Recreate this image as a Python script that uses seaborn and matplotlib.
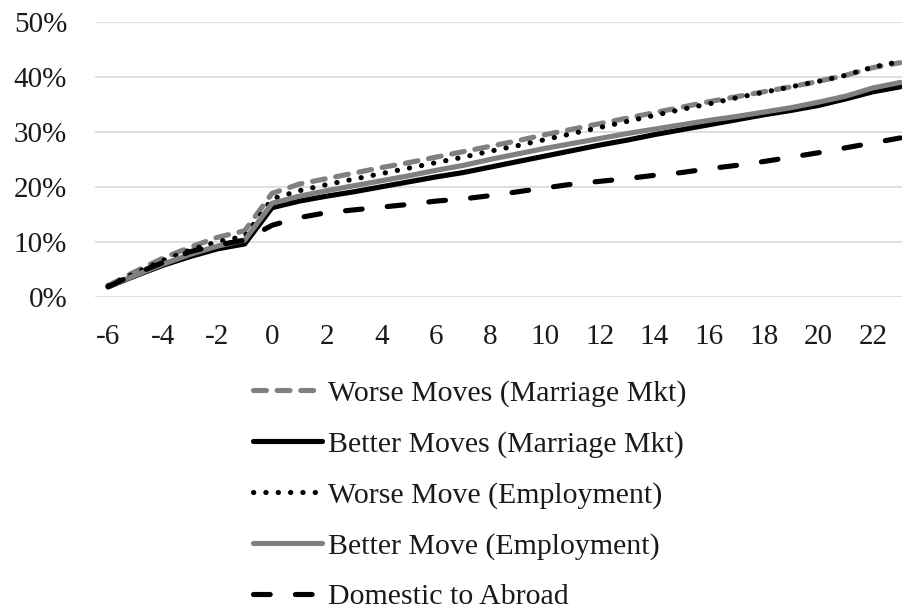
import numpy as np
import pandas as pd
import matplotlib
matplotlib.use("Agg")
import matplotlib.pyplot as plt
import seaborn as sns

# ---- data ----
event_time = list(range(-6, 24))
worse_marriage = [2.0, 4.6, 7.0, 9.0, 10.8, 12.0, 18.8, 20.5, 21.5, 22.5, 23.5, 24.4, 25.4, 26.4, 27.4,
                  28.4, 29.5, 30.5, 31.5, 32.5, 33.5, 34.5, 35.5, 36.4, 37.3, 38.2, 39.2, 40.3, 41.7, 42.6]
better_marriage = [1.8, 3.8, 5.7, 7.3, 8.7, 9.6, 16.2, 17.4, 18.3, 19.1, 20.0, 20.9, 21.8, 22.6, 23.6,
                   24.6, 25.6, 26.6, 27.6, 28.5, 29.5, 30.4, 31.3, 32.2, 33.1, 33.9, 34.8, 36.0, 37.3, 38.2]
worse_employment = [2.0, 4.3, 6.6, 8.5, 10.0, 11.0, 17.8, 19.3, 20.4, 21.4, 22.4, 23.4, 24.4, 25.4, 26.5,
                    27.5, 28.6, 29.7, 30.8, 31.9, 33.0, 34.1, 35.1, 36.2, 37.2, 38.2, 39.2, 40.3, 41.8, 42.8]
better_employment = [1.8, 3.9, 5.9, 7.7, 9.2, 10.3, 17.0, 18.3, 19.3, 20.2, 21.1, 22.0, 23.0, 23.9, 25.0,
                     26.0, 27.0, 27.9, 28.8, 29.7, 30.5, 31.3, 32.1, 32.8, 33.6, 34.4, 35.4, 36.5, 38.0, 39.0]
domestic_abroad = [1.8, 4.2, 6.2, 8.2, 9.4, 10.3, 13.0, 14.4, 15.3, 15.8, 16.3, 16.8, 17.4, 17.8, 18.4,
                   19.1, 19.8, 20.5, 21.0, 21.5, 22.1, 22.6, 23.3, 23.9, 24.6, 25.4, 26.2, 27.1, 28.0, 28.9]

series_names = ["Worse Moves (Marriage Mkt)", "Better Moves (Marriage Mkt)",
                "Worse Move (Employment)", "Better Move (Employment)", "Domestic to Abroad"]
series_values = [worse_marriage, better_marriage, worse_employment, better_employment, domestic_abroad]
x_ticks = list(range(-6, 23, 2))
y_ticks = [0, 10, 20, 30, 40, 50]

df = pd.concat([pd.DataFrame({"t": event_time, "v": np.array(v) / 100.0, "s": n})
                for n, v in zip(series_names, series_values)], ignore_index=True)

# ---- style ----
sns.set_theme(style="white")
plt.rcParams["font.family"] = ["Liberation Serif", "DejaVu Serif"]
text_color = "#1a1a1a"
gray = "#808080"

palette = {series_names[0]: gray, series_names[1]: "black", series_names[2]: "black",
           series_names[3]: gray, series_names[4]: "black"}
dashes = {series_names[0]: (2.5, 2.1), series_names[1]: "", series_names[2]: (0.05, 2.35),
          series_names[3]: "", series_names[4]: (3.25, 4.9)}

fig = plt.figure(figsize=(9.03, 6.13), dpi=100)
ax = fig.add_axes([95 / 903, 1 - 296.7 / 613, 1 - 95 / 903, (296.7 - 22) / 613])

sns.lineplot(data=df, x="t", y="v", hue="s", style="s", hue_order=series_names,
             style_order=series_names, palette=palette, dashes=dashes, linewidth=3.7,
             legend=False, ax=ax, sort=False)
for ln in ax.lines:
    ln.set_dash_capstyle("round")
    ln.set_solid_capstyle("round")
    ln.set_solid_joinstyle("round")

ax.set_xlim(-6.48, 23.1)
ax.set_ylim(0, 0.5)
ax.set_xticks(x_ticks)
ax.set_xticklabels([str(v) for v in x_ticks])
ax.set_yticks([v / 100 for v in y_ticks])
ax.set_yticklabels([f"{v}%" for v in y_ticks])
ax.grid(axis="y", color="#d9d9d9", linewidth=1.2)
ax.grid(axis="x", visible=False)
ax.set_axisbelow(True)
for sp in ax.spines.values():
    sp.set_visible(False)
ax.tick_params(axis="both", length=0, labelsize=21, colors=text_color)
ax.tick_params(axis="x", pad=20)
ax.tick_params(axis="y", pad=20)
ax.set_xlabel("")
ax.set_ylabel("")

leg = fig.legend(ax.lines, series_names, loc="upper left",
                 bbox_to_anchor=(253 / 903, 1 - 380 / 613), frameon=False,
                 fontsize=21.5, handlelength=2.3, handletextpad=0.2, labelspacing=0.79,
                 borderpad=0, borderaxespad=0)
for t in leg.get_texts():
    t.set_color(text_color)

fig.savefig("out.png", dpi=100)
